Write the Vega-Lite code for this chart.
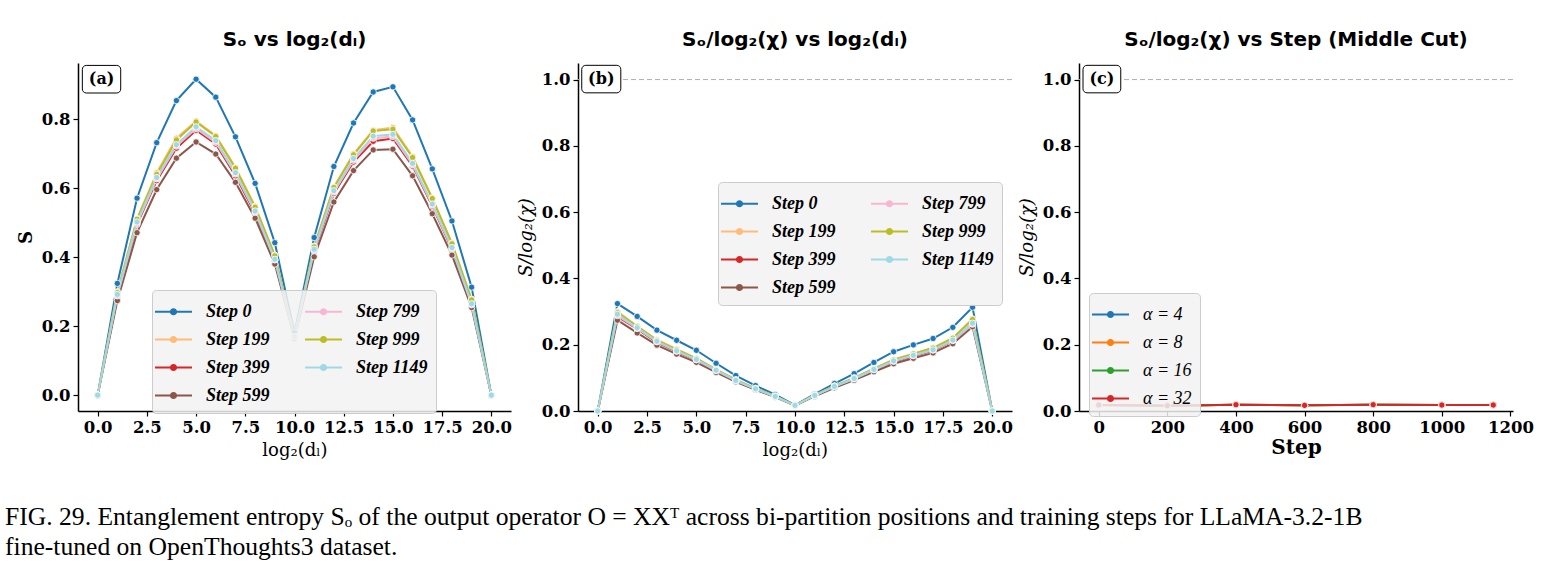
{
  "$schema": "https://vega.github.io/schema/vega-lite/v6.json",
  "autosize": {"type": "none"},
  "padding": {"left": 78, "top": 63, "right": 1477, "bottom": 515},
  "background": "white",
  "datasets": {
    "ab": [
      {"step":0,"x":0,"S":0,"R":0},{"step":0,"x":1,"S":0.324,"R":0.324},{"step":0,"x":2,"S":0.571,"R":0.2855},{"step":0,"x":3,"S":0.732,"R":0.244},{"step":0,"x":4,"S":0.854,"R":0.2135},{"step":0,"x":5,"S":0.916,"R":0.1832},{"step":0,"x":6,"S":0.864,"R":0.144},{"step":0,"x":7,"S":0.749,"R":0.107},{"step":0,"x":8,"S":0.614,"R":0.0768},{"step":0,"x":9,"S":0.442,"R":0.0491},{"step":0,"x":10,"S":0.18,"R":0.018},{"step":0,"x":11,"S":0.457,"R":0.0508},{"step":0,"x":12,"S":0.663,"R":0.0829},{"step":0,"x":13,"S":0.789,"R":0.1127},{"step":0,"x":14,"S":0.879,"R":0.1465},{"step":0,"x":15,"S":0.894,"R":0.1788},{"step":0,"x":16,"S":0.798,"R":0.1995},{"step":0,"x":17,"S":0.656,"R":0.2187},{"step":0,"x":18,"S":0.505,"R":0.2525},{"step":0,"x":19,"S":0.313,"R":0.313},{"step":0,"x":20,"S":0,"R":0},
      {"step":199,"x":0,"S":0,"R":0},{"step":199,"x":1,"S":0.3,"R":0.3},{"step":199,"x":2,"S":0.512,"R":0.256},{"step":199,"x":3,"S":0.645,"R":0.215},{"step":199,"x":4,"S":0.745,"R":0.1863},{"step":199,"x":5,"S":0.795,"R":0.159},{"step":199,"x":6,"S":0.752,"R":0.1253},{"step":199,"x":7,"S":0.66,"R":0.0943},{"step":199,"x":8,"S":0.548,"R":0.0685},{"step":199,"x":9,"S":0.406,"R":0.0451},{"step":199,"x":10,"S":0.17,"R":0.017},{"step":199,"x":11,"S":0.432,"R":0.048},{"step":199,"x":12,"S":0.604,"R":0.0755},{"step":199,"x":13,"S":0.7,"R":0.1},{"step":199,"x":14,"S":0.768,"R":0.128},{"step":199,"x":15,"S":0.776,"R":0.1552},{"step":199,"x":16,"S":0.692,"R":0.173},{"step":199,"x":17,"S":0.572,"R":0.1907},{"step":199,"x":18,"S":0.441,"R":0.2205},{"step":199,"x":19,"S":0.278,"R":0.278},{"step":199,"x":20,"S":0,"R":0},
      {"step":399,"x":0,"S":0,"R":0},{"step":399,"x":1,"S":0.285,"R":0.285},{"step":399,"x":2,"S":0.495,"R":0.2475},{"step":399,"x":3,"S":0.622,"R":0.2073},{"step":399,"x":4,"S":0.716,"R":0.179},{"step":399,"x":5,"S":0.768,"R":0.1536},{"step":399,"x":6,"S":0.728,"R":0.1213},{"step":399,"x":7,"S":0.636,"R":0.0909},{"step":399,"x":8,"S":0.527,"R":0.0659},{"step":399,"x":9,"S":0.39,"R":0.0433},{"step":399,"x":10,"S":0.17,"R":0.017},{"step":399,"x":11,"S":0.418,"R":0.0464},{"step":399,"x":12,"S":0.585,"R":0.0731},{"step":399,"x":13,"S":0.676,"R":0.0966},{"step":399,"x":14,"S":0.736,"R":0.1227},{"step":399,"x":15,"S":0.744,"R":0.1488},{"step":399,"x":16,"S":0.664,"R":0.166},{"step":399,"x":17,"S":0.548,"R":0.1827},{"step":399,"x":18,"S":0.423,"R":0.2115},{"step":399,"x":19,"S":0.263,"R":0.263},{"step":399,"x":20,"S":0,"R":0},
      {"step":599,"x":0,"S":0,"R":0},{"step":599,"x":1,"S":0.274,"R":0.274},{"step":599,"x":2,"S":0.471,"R":0.2355},{"step":599,"x":3,"S":0.596,"R":0.1987},{"step":599,"x":4,"S":0.687,"R":0.1718},{"step":599,"x":5,"S":0.734,"R":0.1468},{"step":599,"x":6,"S":0.699,"R":0.1165},{"step":599,"x":7,"S":0.617,"R":0.0881},{"step":599,"x":8,"S":0.513,"R":0.0641},{"step":599,"x":9,"S":0.38,"R":0.0422},{"step":599,"x":10,"S":0.165,"R":0.0165},{"step":599,"x":11,"S":0.401,"R":0.0446},{"step":599,"x":12,"S":0.56,"R":0.07},{"step":599,"x":13,"S":0.651,"R":0.093},{"step":599,"x":14,"S":0.711,"R":0.1185},{"step":599,"x":15,"S":0.713,"R":0.1426},{"step":599,"x":16,"S":0.636,"R":0.159},{"step":599,"x":17,"S":0.526,"R":0.1753},{"step":599,"x":18,"S":0.406,"R":0.203},{"step":599,"x":19,"S":0.254,"R":0.254},{"step":599,"x":20,"S":0,"R":0},
      {"step":799,"x":0,"S":0,"R":0},{"step":799,"x":1,"S":0.288,"R":0.288},{"step":799,"x":2,"S":0.498,"R":0.249},{"step":799,"x":3,"S":0.627,"R":0.209},{"step":799,"x":4,"S":0.722,"R":0.1805},{"step":799,"x":5,"S":0.773,"R":0.1546},{"step":799,"x":6,"S":0.733,"R":0.1222},{"step":799,"x":7,"S":0.641,"R":0.0916},{"step":799,"x":8,"S":0.531,"R":0.0664},{"step":799,"x":9,"S":0.392,"R":0.0436},{"step":799,"x":10,"S":0.17,"R":0.017},{"step":799,"x":11,"S":0.42,"R":0.0467},{"step":799,"x":12,"S":0.589,"R":0.0736},{"step":799,"x":13,"S":0.681,"R":0.0973},{"step":799,"x":14,"S":0.745,"R":0.1242},{"step":799,"x":15,"S":0.75,"R":0.15},{"step":799,"x":16,"S":0.668,"R":0.167},{"step":799,"x":17,"S":0.551,"R":0.1837},{"step":799,"x":18,"S":0.425,"R":0.2125},{"step":799,"x":19,"S":0.262,"R":0.262},{"step":799,"x":20,"S":0,"R":0},
      {"step":999,"x":0,"S":0,"R":0},{"step":999,"x":1,"S":0.297,"R":0.297},{"step":999,"x":2,"S":0.51,"R":0.255},{"step":999,"x":3,"S":0.64,"R":0.2133},{"step":999,"x":4,"S":0.74,"R":0.185},{"step":999,"x":5,"S":0.792,"R":0.1584},{"step":999,"x":6,"S":0.75,"R":0.125},{"step":999,"x":7,"S":0.658,"R":0.094},{"step":999,"x":8,"S":0.545,"R":0.0681},{"step":999,"x":9,"S":0.404,"R":0.0449},{"step":999,"x":10,"S":0.17,"R":0.017},{"step":999,"x":11,"S":0.43,"R":0.0478},{"step":999,"x":12,"S":0.602,"R":0.0753},{"step":999,"x":13,"S":0.697,"R":0.0996},{"step":999,"x":14,"S":0.766,"R":0.1277},{"step":999,"x":15,"S":0.771,"R":0.1542},{"step":999,"x":16,"S":0.689,"R":0.1723},{"step":999,"x":17,"S":0.57,"R":0.19},{"step":999,"x":18,"S":0.439,"R":0.2195},{"step":999,"x":19,"S":0.276,"R":0.276},{"step":999,"x":20,"S":0,"R":0},
      {"step":1149,"x":0,"S":0,"R":0},{"step":1149,"x":1,"S":0.292,"R":0.292},{"step":1149,"x":2,"S":0.502,"R":0.251},{"step":1149,"x":3,"S":0.631,"R":0.2103},{"step":1149,"x":4,"S":0.726,"R":0.1815},{"step":1149,"x":5,"S":0.778,"R":0.1556},{"step":1149,"x":6,"S":0.738,"R":0.123},{"step":1149,"x":7,"S":0.645,"R":0.0921},{"step":1149,"x":8,"S":0.534,"R":0.0668},{"step":1149,"x":9,"S":0.394,"R":0.0438},{"step":1149,"x":10,"S":0.17,"R":0.017},{"step":1149,"x":11,"S":0.423,"R":0.047},{"step":1149,"x":12,"S":0.593,"R":0.0741},{"step":1149,"x":13,"S":0.686,"R":0.098},{"step":1149,"x":14,"S":0.751,"R":0.1252},{"step":1149,"x":15,"S":0.756,"R":0.1512},{"step":1149,"x":16,"S":0.672,"R":0.168},{"step":1149,"x":17,"S":0.554,"R":0.1847},{"step":1149,"x":18,"S":0.428,"R":0.214},{"step":1149,"x":19,"S":0.265,"R":0.265},{"step":1149,"x":20,"S":0,"R":0}
    ],
    "c": [
      {"alpha":4,"step":0,"R":0.018},{"alpha":4,"step":200,"R":0.016},{"alpha":4,"step":400,"R":0.019},{"alpha":4,"step":600,"R":0.017},{"alpha":4,"step":800,"R":0.019},{"alpha":4,"step":1000,"R":0.018},{"alpha":4,"step":1150,"R":0.018},
      {"alpha":8,"step":0,"R":0.018},{"alpha":8,"step":200,"R":0.016},{"alpha":8,"step":400,"R":0.019},{"alpha":8,"step":600,"R":0.017},{"alpha":8,"step":800,"R":0.019},{"alpha":8,"step":1000,"R":0.018},{"alpha":8,"step":1150,"R":0.018},
      {"alpha":16,"step":0,"R":0.018},{"alpha":16,"step":200,"R":0.016},{"alpha":16,"step":400,"R":0.019},{"alpha":16,"step":600,"R":0.017},{"alpha":16,"step":800,"R":0.019},{"alpha":16,"step":1000,"R":0.018},{"alpha":16,"step":1150,"R":0.018},
      {"alpha":32,"step":0,"R":0.018},{"alpha":32,"step":200,"R":0.016},{"alpha":32,"step":400,"R":0.019},{"alpha":32,"step":600,"R":0.017},{"alpha":32,"step":800,"R":0.019},{"alpha":32,"step":1000,"R":0.018},{"alpha":32,"step":1150,"R":0.018}
    ]
  },
  "config": {
    "view": {"stroke": null},
    "font": "DejaVu Serif",
    "axis": {"domainColor": "black", "domainWidth": 1.5, "tickColor": "black", "tickWidth": 1.2, "tickSize": 5, "labelFont": "DejaVu Serif", "labelFontWeight": "bold", "labelFontSize": 16.5, "labelColor": "black", "labelPadding": 3, "grid": false, "titleFont": "DejaVu Serif", "titleFontWeight": "normal", "titleFontSize": 18, "titleColor": "black", "titlePadding": 6, "labelFlush": false, "labelOverlap": false},
    "title": {"font": "DejaVu Sans", "fontWeight": "bold", "fontSize": 20, "color": "black", "offset": 13},
    "legend": {"orient": "none", "fillColor": "rgba(242,242,242,0.85)", "strokeColor": "#cccccc", "cornerRadius": 4, "padding": 8, "labelFont": "Liberation Serif", "labelFontSize": 18, "labelFontStyle": "italic", "labelFontWeight": "bold", "labelColor": "black", "symbolType": "M-1.5,0H1.5M-0.21,0A0.21,0.21 0 1 0 0.21,0A0.21,0.21 0 1 0 -0.21,0Z", "symbolSize": 610, "symbolStrokeWidth": 2, "labelOffset": 19, "rowPadding": 5, "title": null}
  },
  "title": {"text": ["FIG. 29.  Entanglement entropy Sₒ of the output operator O = XXᵀ across bi-partition positions and training steps for LLaMA-3.2-1B", "fine-tuned on OpenThoughts3 dataset."], "orient": "bottom", "anchor": "start", "frame": "group", "font": "Liberation Serif", "fontWeight": "normal", "fontSize": 25.6, "lineHeight": 30, "offset": 45, "dx": -73},
  "hconcat": [
    {
      "width": 433, "height": 348,
      "title": {"text": "Sₒ vs log₂(dₗ)"},
      "layer": [
        {"data": {"name": "ab"}, "mark": {"type": "line", "strokeWidth": 2},
         "encoding": {
           "x": {"field": "x", "type": "quantitative", "scale": {"domain": [-1, 21], "nice": false, "zero": false}, "axis": {"values": [0, 2.5, 5, 7.5, 10, 12.5, 15, 17.5, 20], "format": ".1f", "title": "log₂(dₗ)"}},
           "y": {"field": "S", "type": "quantitative", "scale": {"domain": [-0.046, 0.963], "nice": false, "zero": false}, "axis": {"values": [0, 0.2, 0.4, 0.6, 0.8], "format": ".1f", "title": "S", "titleFontWeight": "bold"}},
           "color": {"field": "step", "type": "nominal", "scale": {"domain": [0, 199, 399, 599, 799, 999, 1149], "range": ["#1f77b4", "#ffbb78", "#d62728", "#8c564b", "#f7b6d2", "#bcbd22", "#9edae5"]}, "legend": {"columns": 2, "legendX": 74, "legendY": 227, "columnPadding": 30, "labelExpr": "'Step ' + datum.label"}}
         }},
        {"data": {"name": "ab"}, "mark": {"type": "point", "filled": true, "size": 40, "stroke": "white", "strokeWidth": 0.8, "opacity": 1},
         "encoding": {
           "x": {"field": "x", "type": "quantitative"},
           "y": {"field": "S", "type": "quantitative"},
           "color": {"field": "step", "type": "nominal"}
         }},
        {"data": {"values": [{}]}, "mark": {"type": "rect", "fill": "white", "stroke": "black", "strokeWidth": 1, "cornerRadius": 4},
         "encoding": {"x": {"datum": -0.78, "type": "quantitative"}, "x2": {"datum": 1.17}, "y": {"datum": 0.876, "type": "quantitative"}, "y2": {"datum": 0.956}}},
        {"data": {"values": [{}]}, "mark": {"type": "text", "text": "(a)", "font": "DejaVu Serif", "fontWeight": "bold", "fontSize": 16, "baseline": "middle", "align": "center"},
         "encoding": {"x": {"datum": 0.2, "type": "quantitative"}, "y": {"datum": 0.916, "type": "quantitative"}}}
      ]
    },
    {
      "width": 434, "height": 348,
      "title": {"text": "Sₒ/log₂(χ) vs log₂(dₗ)"},
      "layer": [
        {"data": {"values": [{}]}, "mark": {"type": "rule", "color": "#b0b0b0", "strokeDash": [5, 3], "strokeWidth": 1},
         "encoding": {"y": {"datum": 1, "type": "quantitative"}}},
        {"data": {"name": "ab"}, "mark": {"type": "line", "strokeWidth": 2},
         "encoding": {
           "x": {"field": "x", "type": "quantitative", "scale": {"domain": [-1, 21], "nice": false, "zero": false}, "axis": {"values": [0, 2.5, 5, 7.5, 10, 12.5, 15, 17.5, 20], "format": ".1f", "title": "log₂(dₗ)"}},
           "y": {"field": "R", "type": "quantitative", "scale": {"domain": [0, 1.05], "nice": false, "zero": false}, "axis": {"values": [0, 0.2, 0.4, 0.6, 0.8, 1.0], "format": ".1f", "title": "S/log₂(χ)", "titleFontStyle": "italic"}},
           "color": {"field": "step", "type": "nominal", "scale": {"domain": [0, 199, 399, 599, 799, 999, 1149], "range": ["#1f77b4", "#ffbb78", "#d62728", "#8c564b", "#f7b6d2", "#bcbd22", "#9edae5"]}, "legend": {"columns": 2, "legendX": 140, "legendY": 119, "columnPadding": 30, "labelExpr": "'Step ' + datum.label"}}
         }},
        {"data": {"name": "ab"}, "mark": {"type": "point", "filled": true, "size": 40, "stroke": "white", "strokeWidth": 0.8, "opacity": 1},
         "encoding": {
           "x": {"field": "x", "type": "quantitative"},
           "y": {"field": "R", "type": "quantitative"},
           "color": {"field": "step", "type": "nominal"}
         }},
        {"data": {"values": [{}]}, "mark": {"type": "rect", "fill": "white", "stroke": "black", "strokeWidth": 1, "cornerRadius": 4},
         "encoding": {"x": {"datum": -0.81, "type": "quantitative"}, "x2": {"datum": 1.17}, "y": {"datum": 0.96, "type": "quantitative"}, "y2": {"datum": 1.043}}},
        {"data": {"values": [{}]}, "mark": {"type": "text", "text": "(b)", "font": "DejaVu Serif", "fontWeight": "bold", "fontSize": 16, "baseline": "middle", "align": "center"},
         "encoding": {"x": {"datum": 0.18, "type": "quantitative"}, "y": {"datum": 1.0015, "type": "quantitative"}}}
      ]
    },
    {
      "width": 434, "height": 348,
      "title": {"text": "Sₒ/log₂(χ) vs Step (Middle Cut)"},
      "layer": [
        {"data": {"values": [{}]}, "mark": {"type": "rule", "color": "#b0b0b0", "strokeDash": [5, 3], "strokeWidth": 1},
         "encoding": {"y": {"datum": 1, "type": "quantitative"}}},
        {"data": {"name": "c"}, "mark": {"type": "line", "strokeWidth": 2},
         "encoding": {
           "x": {"field": "step", "type": "quantitative", "scale": {"domain": [-57.5, 1207.5], "nice": false, "zero": false}, "axis": {"values": [0, 200, 400, 600, 800, 1000, 1200], "format": "d", "title": "Step", "titleFontWeight": "bold", "titleFontSize": 20, "titlePadding": 2}},
           "y": {"field": "R", "type": "quantitative", "scale": {"domain": [0, 1.05], "nice": false, "zero": false}, "axis": {"values": [0, 0.2, 0.4, 0.6, 0.8, 1.0], "format": ".1f", "title": "S/log₂(χ)", "titleFontStyle": "italic"}},
           "color": {"field": "alpha", "type": "nominal", "scale": {"domain": [4, 8, 16, 32], "range": ["#1f77b4", "#ff7f0e", "#2ca02c", "#d62728"]}, "legend": {"legendX": 10, "legendY": 230, "labelExpr": "'α = ' + datum.label", "labelFontStyle": "italic", "labelFontWeight": "normal"}}
         }},
        {"data": {"name": "c"}, "mark": {"type": "point", "filled": true, "size": 40, "stroke": "white", "strokeWidth": 0.8, "opacity": 1},
         "encoding": {
           "x": {"field": "step", "type": "quantitative"},
           "y": {"field": "R", "type": "quantitative"},
           "color": {"field": "alpha", "type": "nominal"}
         }},
        {"data": {"values": [{}]}, "mark": {"type": "rect", "fill": "white", "stroke": "black", "strokeWidth": 1, "cornerRadius": 4},
         "encoding": {"x": {"datum": -45.8, "type": "quantitative"}, "x2": {"datum": 64.2}, "y": {"datum": 0.96, "type": "quantitative"}, "y2": {"datum": 1.043}}},
        {"data": {"values": [{}]}, "mark": {"type": "text", "text": "(c)", "font": "DejaVu Serif", "fontWeight": "bold", "fontSize": 16, "baseline": "middle", "align": "center"},
         "encoding": {"x": {"datum": 9.2, "type": "quantitative"}, "y": {"datum": 1.0015, "type": "quantitative"}}}
      ]
    }
  ],
  "spacing": 67,
  "bounds": "flush",
  "resolve": {"scale": {"x": "independent", "y": "independent", "color": "independent"}, "legend": {"color": "independent"}}
}
